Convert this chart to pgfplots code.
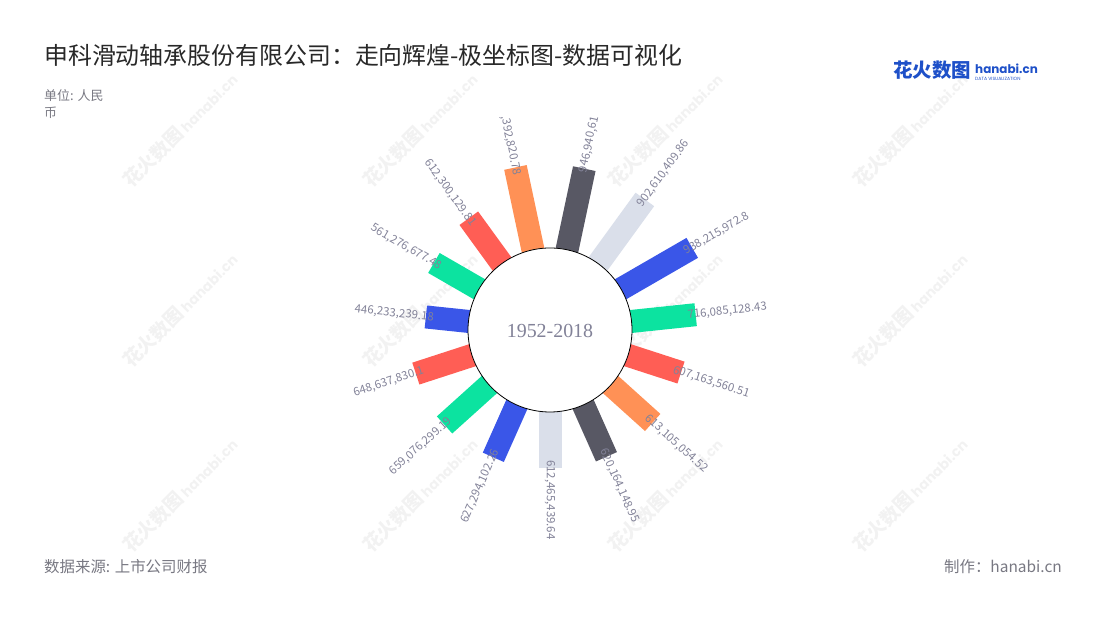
\documentclass[border=0pt]{standalone}
\usepackage{fontspec}
\setmainfont{Noto Sans CJK SC}
\newfontfamily\pop{Poppins}
\newfontfamily\serifnum{Liberation Serif}
\usepackage{pgfplots}
\pgfplotsset{compat=1.18}
\usepgfplotslibrary{polar}

\definecolor{labc}{RGB}{130,130,152}
\definecolor{titc}{RGB}{40,40,40}
\definecolor{subc}{RGB}{120,120,130}
\definecolor{logob}{RGB}{30,80,200}
\definecolor{wm}{RGB}{242,242,242}
\definecolor{bc0}{RGB}{58,86,232}
\definecolor{bc1}{RGB}{12,227,160}
\definecolor{bc2}{RGB}{255,94,85}
\definecolor{bc3}{RGB}{255,145,86}
\definecolor{bc4}{RGB}{88,88,100}
\definecolor{bc5}{RGB}{218,223,234}

\newcommand{\rt}[1]{\hspace*{-8bp}#1}
\newcommand{\lt}[1]{#1\hspace*{-8bp}}
\tikzset{
  lab/.style={inner sep=0pt, outer sep=0pt, text=labc, font=\fontsize{11.5}{14}\selectfont},
  rl/.style={lab, pos=1, anchor=west, rotate=#1},
  ll/.style={lab, pos=1, anchor=east, rotate=#1},
}

\begin{document}
\begin{tikzpicture}[x=1bp,y=1bp]
\path[use as bounding box] (0,0) rectangle (1100,620);
% watermarks
\foreach \wx in {180,420,665,910}{
  \foreach \wy in {130,310,495}{
    \node[rotate=45, text=wm, inner sep=0pt] at (\wx,{620-\wy})
      {\fontsize{19}{20}\selectfont\bfseries 花火数图\,\pop\bfseries\fontsize{14}{15}\selectfont hanabi.cn};
  }
}
\begin{scope}
\clip (0,0) rectangle (1100,502);
% angle: degrees clockwise from top; radius: value in millions (bar base at -150)
\begin{polaraxis}[at={(550,290)}, anchor=center, scale only axis,
  width=400bp, height=400bp, xmin=0, xmax=360, ymin=0, ymax=200,
  hide axis, clip=false,
  x filter/.expression={90-x},
  y filter/.expression={89.1+0.0801*y},
  every axis plot/.append style={line width=23bp}]
\addplot[bc4] coordinates {(12,-150) (12,946.94)}  node[rl=78] {\hspace*{-4bp}946,940,612.37};
\addplot[bc5] coordinates {(36,-150) (36,902.61)}  node[rl=54] {\rt{902,610,409.86}};
\addplot[bc0] coordinates {(60,-150) (60,938.22)}  node[rl=30] {\rt{938,215,972.8}};
\addplot[bc1] coordinates {(84,-150) (84,716.09)}  node[rl=6] {\rt{716,085,128.43}};
\addplot[bc2] coordinates {(108,-150) (108,607.16)} node[rl=-18] {\rt{607,163,560.51}};
\addplot[bc3] coordinates {(132,-150) (132,613.11)} node[rl=-42] {\rt{613,105,054.52}};
\addplot[bc4] coordinates {(156,-150) (156,620.16)} node[rl=-66] {\rt{620,164,148.95}};
\addplot[bc5] coordinates {(180,-150) (180,612.47)} node[rl=-90] {\rt{612,465,439.64}};
\addplot[bc0] coordinates {(204,-150) (204,627.29)} node[ll=66] {\lt{627,294,102.26}};
\addplot[bc1] coordinates {(228,-150) (228,659.08)} node[ll=42] {\lt{659,076,299.19}};
\addplot[bc2] coordinates {(252,-150) (252,648.64)} node[ll=18] {\lt{648,637,830.1}};
\addplot[bc0] coordinates {(276,-150) (276,446.23)} node[ll=-6] {\lt{446,233,239.18}};
\addplot[bc1] coordinates {(300,-150) (300,561.28)} node[ll=-30] {\lt{561,276,677.48}};
\addplot[bc2] coordinates {(324,-150) (324,612.30)} node[ll=-54] {\lt{612,300,129.81}};
\addplot[bc3] coordinates {(348,-150) (348,962.39)} node[ll=-78] {\lt{962,392,820.78}};
\end{polaraxis}
\end{scope}
\draw[fill=white, line width=0.8bp] (550,290) circle[radius=82];
\node[text=labc, font=\serifnum\fontsize{20}{22}\selectfont] at (550,289) {1952-2018};
% titles
\node[anchor=west, inner sep=0pt, text=titc, font=\fontsize{24}{28}\selectfont] at (44,565)
  {申科滑动轴承股份有限公司：走向辉煌-极坐标图-数据可视化};
\node[anchor=base west, inner sep=0pt, text=subc, font=\fontsize{13}{15}\selectfont] at (44,519) {单位: 人民};
\node[anchor=base west, inner sep=0pt, text=subc, font=\fontsize{13}{15}\selectfont] at (44,502) {币};
\node[anchor=base west, inner sep=0pt, text=subc, font=\fontsize{15.5}{17}\selectfont] at (44,47) {数据来源: 上市公司财报};
\node[anchor=base east, inner sep=0pt, text=subc, font=\fontsize{15.5}{17}\selectfont] at (1062,47) {制作：hanabi.cn};
% logo
\node[anchor=base west, inner sep=0pt, text=logob, font=\bfseries\fontsize{19.5}{20}\selectfont] at (893,542) {花火数图};
\node[anchor=base west, inner sep=0pt, text=logob, font=\pop\bfseries\fontsize{12}{14}\selectfont] at (975,546) {hanabi.cn};
\node[anchor=base west, inner sep=0pt, text=logob, font=\pop\fontsize{4.6}{6}\selectfont] at (975,539) {DATA VISUALIZATION};
\end{tikzpicture}
\end{document}
